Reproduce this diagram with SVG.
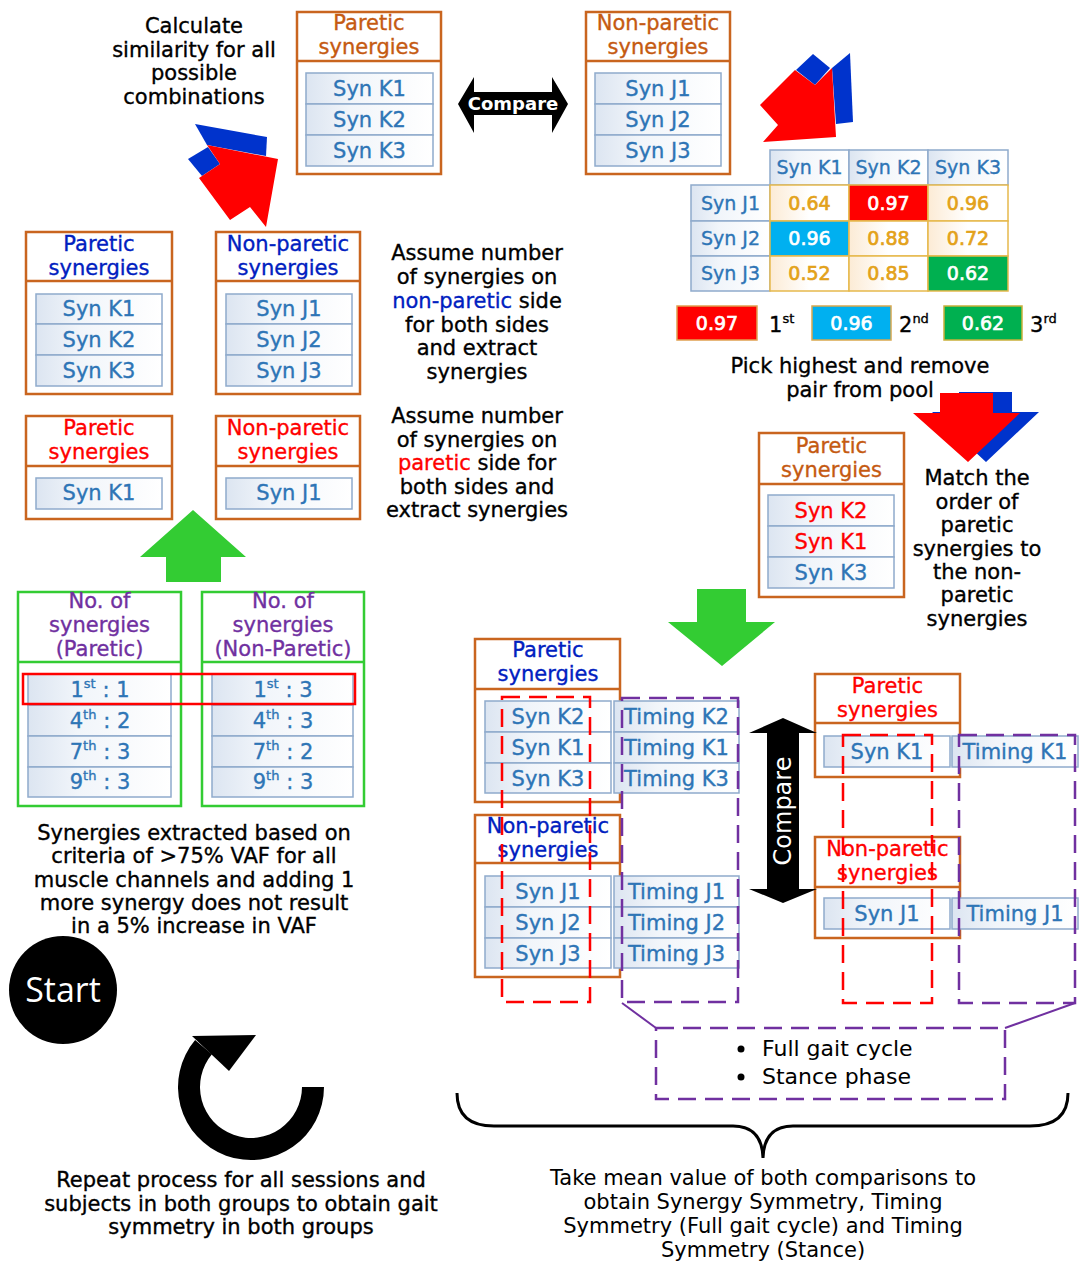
<svg xmlns="http://www.w3.org/2000/svg" width="1084" height="1267" viewBox="0 0 1084 1267">
<defs>
<linearGradient id="rowGrad" x1="0" y1="0" x2="1" y2="0">
<stop offset="0" stop-color="#DCE5F1"/><stop offset="0.35" stop-color="#F1F5FA"/><stop offset="1" stop-color="#FFFFFF"/>
</linearGradient>
<linearGradient id="valGrad" x1="0" y1="0" x2="1" y2="0">
<stop offset="0" stop-color="#FCEBD5"/><stop offset="0.5" stop-color="#FFFFFF"/><stop offset="1" stop-color="#FFFFFF"/>
</linearGradient>
<style>
.t{font-family:"DejaVu Sans",Verdana,sans-serif;font-size:21px;text-anchor:middle;fill:#000;stroke:#000;stroke-width:0.35}
.s{text-anchor:start}
.syn{fill:#2E75B6;stroke:#2E75B6}
.org{fill:#C55A11;stroke:#C55A11}
.blu{fill:#0020C0;stroke:#0020C0}
.red{fill:#FF0000;stroke:#FF0000}
.pur{fill:#7030A0;stroke:#7030A0}
.wht{fill:#FFFFFF;stroke:#FFFFFF}
.gold{fill:#E3A21A;stroke:#E3A21A}
.v{font-size:19px}
.box{fill:#FFFFFF;stroke:#C9651F;stroke-width:2.5}
.gbox{fill:#FFFFFF;stroke:#33CC33;stroke-width:2.5}
.div{stroke:#C9651F;stroke-width:2.5}
.gdiv{stroke:#33CC33;stroke-width:2.5}
.row{fill:url(#rowGrad);stroke:#8FAACC;stroke-width:1.5}
.hcell{fill:url(#rowGrad);stroke:#8FAACC;stroke-width:1.5}
.vcell{fill:url(#valGrad);stroke:#E6B94C;stroke-width:1.5}
.rdash{fill:none;stroke:#FF0000;stroke-width:2.5;stroke-dasharray:18 9}
.pdash{fill:none;stroke:#7030A0;stroke-width:2.5;stroke-dasharray:18 9}
.sup{font-size:13px}
</style>
</defs>
<rect width="1084" height="1267" fill="#FFFFFF"/>

<!-- Text blocks -->
<g id="txt-calc">
<text class="t" x="194" y="33">Calculate</text>
<text class="t" x="194" y="57">similarity for all</text>
<text class="t" x="194" y="80">possible</text>
<text class="t" x="194" y="104">combinations</text>
</g>

<g id="txt-assume-nonparetic">
<text class="t" x="477" y="260">Assume number</text>
<text class="t" x="477" y="284">of synergies on</text>
<text class="t" x="477" y="308"><tspan class="blu">non-paretic</tspan> side</text>
<text class="t" x="477" y="332">for both sides</text>
<text class="t" x="477" y="355">and extract</text>
<text class="t" x="477" y="379">synergies</text>
</g>
<g id="txt-assume-paretic">
<text class="t" x="477" y="423">Assume number</text>
<text class="t" x="477" y="447">of synergies on</text>
<text class="t" x="477" y="470"><tspan class="red">paretic</tspan> side for</text>
<text class="t" x="477" y="494">both sides and</text>
<text class="t" x="477" y="517">extract synergies</text>
</g>

<g id="txt-pick">
<text class="t" x="860" y="373">Pick highest and remove</text>
<text class="t" x="860" y="397">pair from pool</text>
</g>

<g id="txt-match">
<text class="t" x="977" y="485">Match the</text>
<text class="t" x="977" y="509">order of</text>
<text class="t" x="977" y="532">paretic</text>
<text class="t" x="977" y="556">synergies to</text>
<text class="t" x="977" y="579">the non-</text>
<text class="t" x="977" y="602">paretic</text>
<text class="t" x="977" y="626">synergies</text>
</g>

<g id="txt-extracted">
<text class="t" x="194" y="840">Synergies extracted based on</text>
<text class="t" x="194" y="863">criteria of &gt;75% VAF for all</text>
<text class="t" x="194" y="887">muscle channels and adding 1</text>
<text class="t" x="194" y="910">more synergy does not result</text>
<text class="t" x="194" y="933">in a 5% increase in VAF</text>
</g>

<g id="txt-repeat">
<text class="t" x="241" y="1187">Repeat process for all sessions and</text>
<text class="t" x="241" y="1211">subjects in both groups to obtain gait</text>
<text class="t" x="241" y="1234">symmetry in both groups</text>
</g>

<g id="txt-mean">
<text class="t" x="763" y="1185" style="stroke-width:0">Take mean value of both comparisons to</text>
<text class="t" x="763" y="1209" style="stroke-width:0">obtain Synergy Symmetry, Timing</text>
<text class="t" x="763" y="1233" style="stroke-width:0">Symmetry (Full gait cycle) and Timing</text>
<text class="t" x="763" y="1257" style="stroke-width:0">Symmetry (Stance)</text>
</g>

<!-- Top center boxes -->
<g id="box-top-paretic">
<rect class="box" x="297" y="12" width="144" height="162"/>
<line class="div" x1="297" y1="61" x2="441" y2="61"/>
<text class="t org" x="369" y="30">Paretic</text>
<text class="t org" x="369" y="54">synergies</text>
<rect class="row" x="306" y="73" width="127" height="31"/>
<rect class="row" x="306" y="104" width="127" height="31"/>
<rect class="row" x="306" y="135" width="127" height="31"/>
<text class="t syn" x="369.5" y="96">Syn K1</text>
<text class="t syn" x="369.5" y="127">Syn K2</text>
<text class="t syn" x="369.5" y="158">Syn K3</text>
</g>
<g id="box-top-nonparetic">
<rect class="box" x="586" y="12" width="144" height="162"/>
<line class="div" x1="586" y1="61" x2="730" y2="61"/>
<text class="t org" x="658" y="30">Non-paretic</text>
<text class="t org" x="658" y="54">synergies</text>
<rect class="row" x="595" y="73" width="126" height="31"/>
<rect class="row" x="595" y="104" width="126" height="31"/>
<rect class="row" x="595" y="135" width="126" height="31"/>
<text class="t syn" x="658" y="96">Syn J1</text>
<text class="t syn" x="658" y="127">Syn J2</text>
<text class="t syn" x="658" y="158">Syn J3</text>
</g>

<!-- Compare horizontal arrow -->
<g id="compare-h">
<polygon points="458,104 474,77 474,92 552,92 552,77 568,104 552,133 552,115 474,115 474,133" fill="#000"/>
<text class="t wht" x="513" y="110" style="font-size:18px;font-weight:bold;stroke-width:0">Compare</text>
</g>

<!-- Similarity matrix -->
<g id="matrix">
<rect class="hcell" x="770" y="150" width="79" height="35"/>
<rect class="hcell" x="849" y="150" width="79" height="35"/>
<rect class="hcell" x="928" y="150" width="80" height="35"/>
<rect class="hcell" x="691" y="185" width="79" height="36"/>
<rect class="hcell" x="691" y="221" width="79" height="35"/>
<rect class="hcell" x="691" y="256" width="79" height="35"/>
<text class="t syn v" x="809.5" y="174">Syn K1</text>
<text class="t syn v" x="888.5" y="174">Syn K2</text>
<text class="t syn v" x="968" y="174">Syn K3</text>
<text class="t syn v" x="730.5" y="210">Syn J1</text>
<text class="t syn v" x="730.5" y="245">Syn J2</text>
<text class="t syn v" x="730.5" y="280">Syn J3</text>
<rect class="vcell" x="770" y="185" width="79" height="36"/>
<rect x="849" y="185" width="79" height="36" fill="#FF0000" stroke="#E6B94C" stroke-width="1.5"/>
<rect class="vcell" x="928" y="185" width="80" height="36"/>
<rect x="770" y="221" width="79" height="35" fill="#00B0F0" stroke="#E6B94C" stroke-width="1.5"/>
<rect class="vcell" x="849" y="221" width="79" height="35"/>
<rect class="vcell" x="928" y="221" width="80" height="35"/>
<rect class="vcell" x="770" y="256" width="79" height="35"/>
<rect class="vcell" x="849" y="256" width="79" height="35"/>
<rect x="928" y="256" width="80" height="35" fill="#00B050" stroke="#E6B94C" stroke-width="1.5"/>
<text class="t gold v" x="809.5" y="210" style="stroke-width:0.7">0.64</text>
<text class="t wht v" x="888.5" y="210" style="stroke-width:0.7">0.97</text>
<text class="t gold v" x="968" y="210" style="stroke-width:0.7">0.96</text>
<text class="t wht v" x="809.5" y="245" style="stroke-width:0.7">0.96</text>
<text class="t gold v" x="888.5" y="245" style="stroke-width:0.7">0.88</text>
<text class="t gold v" x="968" y="245" style="stroke-width:0.7">0.72</text>
<text class="t gold v" x="809.5" y="280" style="stroke-width:0.7">0.52</text>
<text class="t gold v" x="888.5" y="280" style="stroke-width:0.7">0.85</text>
<text class="t wht v" x="968" y="280" style="stroke-width:0.7">0.62</text>
</g>

<!-- Legend -->
<g id="legend">
<rect x="677" y="306" width="80" height="34" fill="#FF0000" stroke="#E0A050" stroke-width="1.5"/>
<text class="t wht v" x="717" y="330" style="stroke-width:0.7">0.97</text>
<text class="t s" x="769" y="332">1<tspan class="sup" dy="-9">st</tspan></text>
<rect x="812" y="306" width="79" height="34" fill="#00B0F0" stroke="#D9A84E" stroke-width="1.5"/>
<text class="t wht v" x="851.5" y="330" style="stroke-width:0.7">0.96</text>
<text class="t s" x="899" y="332">2<tspan class="sup" dy="-9">nd</tspan></text>
<rect x="944" y="306" width="78" height="34" fill="#00B050" stroke="#C9B03A" stroke-width="1.5"/>
<text class="t wht v" x="983" y="330" style="stroke-width:0.7">0.62</text>
<text class="t s" x="1030" y="332">3<tspan class="sup" dy="-9">rd</tspan></text>
</g>

<!-- Left middle boxes -->
<g id="box-left-paretic-blue">
<rect class="box" x="26" y="232" width="146" height="162"/>
<line class="div" x1="26" y1="281" x2="172" y2="281"/>
<text class="t blu" x="99" y="251">Paretic</text>
<text class="t blu" x="99" y="275">synergies</text>
<rect class="row" x="36" y="294" width="126" height="30"/>
<rect class="row" x="36" y="324" width="126" height="31"/>
<rect class="row" x="36" y="355" width="126" height="31"/>
<text class="t syn" x="99" y="316">Syn K1</text>
<text class="t syn" x="99" y="347">Syn K2</text>
<text class="t syn" x="99" y="378">Syn K3</text>
</g>
<g id="box-left-nonparetic-blue">
<rect class="box" x="216" y="232" width="144" height="162"/>
<line class="div" x1="216" y1="281" x2="360" y2="281"/>
<text class="t blu" x="288" y="251">Non-paretic</text>
<text class="t blu" x="288" y="275">synergies</text>
<rect class="row" x="226" y="294" width="126" height="30"/>
<rect class="row" x="226" y="324" width="126" height="31"/>
<rect class="row" x="226" y="355" width="126" height="31"/>
<text class="t syn" x="289" y="316">Syn J1</text>
<text class="t syn" x="289" y="347">Syn J2</text>
<text class="t syn" x="289" y="378">Syn J3</text>
</g>
<g id="box-left-paretic-red">
<rect class="box" x="26" y="416" width="146" height="103"/>
<line class="div" x1="26" y1="466" x2="172" y2="466"/>
<text class="t red" x="99" y="435">Paretic</text>
<text class="t red" x="99" y="459">synergies</text>
<rect class="row" x="36" y="478" width="126" height="31"/>
<text class="t syn" x="99" y="500">Syn K1</text>
</g>
<g id="box-left-nonparetic-red">
<rect class="box" x="216" y="416" width="144" height="103"/>
<line class="div" x1="216" y1="466" x2="360" y2="466"/>
<text class="t red" x="288" y="435">Non-paretic</text>
<text class="t red" x="288" y="459">synergies</text>
<rect class="row" x="226" y="478" width="126" height="31"/>
<text class="t syn" x="289" y="500">Syn J1</text>
</g>

<!-- Green number boxes -->
<g id="box-no-paretic">
<rect class="gbox" x="18" y="592" width="163" height="214"/>
<line class="gdiv" x1="18" y1="662" x2="181" y2="662"/>
<text class="t pur" x="99.5" y="608">No. of</text>
<text class="t pur" x="99.5" y="632">synergies</text>
<text class="t pur" x="99.5" y="656">(Paretic)</text>
<rect class="row" x="28" y="674" width="143" height="31"/>
<rect class="row" x="28" y="705" width="143" height="31"/>
<rect class="row" x="28" y="736" width="143" height="31"/>
<rect class="row" x="28" y="767" width="143" height="30"/>
<text class="t syn" x="100" y="697">1<tspan class="sup" dy="-9">st</tspan><tspan dy="9"> : 1</tspan></text>
<text class="t syn" x="100" y="728">4<tspan class="sup" dy="-9">th</tspan><tspan dy="9"> : 2</tspan></text>
<text class="t syn" x="100" y="759">7<tspan class="sup" dy="-9">th</tspan><tspan dy="9"> : 3</tspan></text>
<text class="t syn" x="100" y="789">9<tspan class="sup" dy="-9">th</tspan><tspan dy="9"> : 3</tspan></text>
</g>
<g id="box-no-nonparetic">
<rect class="gbox" x="202" y="592" width="162" height="214"/>
<line class="gdiv" x1="202" y1="662" x2="364" y2="662"/>
<text class="t pur" x="283" y="608">No. of</text>
<text class="t pur" x="283" y="632">synergies</text>
<text class="t pur" x="283" y="656">(Non-Paretic)</text>
<rect class="row" x="212" y="674" width="141" height="31"/>
<rect class="row" x="212" y="705" width="141" height="31"/>
<rect class="row" x="212" y="736" width="141" height="31"/>
<rect class="row" x="212" y="767" width="141" height="30"/>
<text class="t syn" x="283" y="697">1<tspan class="sup" dy="-9">st</tspan><tspan dy="9"> : 3</tspan></text>
<text class="t syn" x="283" y="728">4<tspan class="sup" dy="-9">th</tspan><tspan dy="9"> : 3</tspan></text>
<text class="t syn" x="283" y="759">7<tspan class="sup" dy="-9">th</tspan><tspan dy="9"> : 2</tspan></text>
<text class="t syn" x="283" y="789">9<tspan class="sup" dy="-9">th</tspan><tspan dy="9"> : 3</tspan></text>
</g>
<rect id="highlight-first" x="23" y="674" width="332" height="30" fill="none" stroke="#FF0000" stroke-width="2.5"/>

<!-- Start -->
<g id="start">
<circle cx="63" cy="990" r="54" fill="#000"/>
<text x="63" y="1002" text-anchor="middle" font-family="'Open Sans','DejaVu Sans',sans-serif" font-size="34" fill="#FFFFFF">Start</text>
</g>

<!-- Right matched box -->
<g id="box-matched-paretic">
<rect class="box" x="759" y="433" width="145" height="164"/>
<line class="div" x1="759" y1="484" x2="904" y2="484"/>
<text class="t org" x="831.5" y="453">Paretic</text>
<text class="t org" x="831.5" y="477">synergies</text>
<rect class="row" x="768" y="495" width="126" height="31"/>
<rect class="row" x="768" y="526" width="126" height="31"/>
<rect class="row" x="768" y="557" width="126" height="31"/>
<text class="t red" x="831" y="518">Syn K2</text>
<text class="t red" x="831" y="549">Syn K1</text>
<text class="t syn" x="831" y="580">Syn K3</text>
</g>

<!-- Bottom middle boxes -->
<g id="box-bm-paretic">
<rect class="box" x="475" y="639" width="145" height="163"/>
<line class="div" x1="475" y1="689" x2="620" y2="689"/>
<text class="t blu" x="548" y="657">Paretic</text>
<text class="t blu" x="548" y="681">synergies</text>
<rect class="row" x="485" y="701" width="126" height="31"/>
<rect class="row" x="485" y="732" width="126" height="31"/>
<rect class="row" x="485" y="763" width="126" height="30"/>
<text class="t syn" x="548" y="724">Syn K2</text>
<text class="t syn" x="548" y="755">Syn K1</text>
<text class="t syn" x="548" y="786">Syn K3</text>
<rect class="row" x="614" y="701" width="125" height="31"/>
<rect class="row" x="614" y="732" width="125" height="31"/>
<rect class="row" x="614" y="763" width="125" height="30"/>
<text class="t syn" x="676.5" y="724">Timing K2</text>
<text class="t syn" x="676.5" y="755">Timing K1</text>
<text class="t syn" x="676.5" y="786">Timing K3</text>
</g>
<g id="box-bm-nonparetic">
<rect class="box" x="475" y="815" width="145" height="162"/>
<line class="div" x1="475" y1="863" x2="620" y2="863"/>
<text class="t blu" x="548" y="833">Non-paretic</text>
<text class="t blu" x="548" y="857">synergies</text>
<rect class="row" x="485" y="876" width="126" height="31"/>
<rect class="row" x="485" y="907" width="126" height="31"/>
<rect class="row" x="485" y="938" width="126" height="30"/>
<text class="t syn" x="548" y="899">Syn J1</text>
<text class="t syn" x="548" y="930">Syn J2</text>
<text class="t syn" x="548" y="961">Syn J3</text>
<rect class="row" x="614" y="876" width="125" height="31"/>
<rect class="row" x="614" y="907" width="125" height="31"/>
<rect class="row" x="614" y="938" width="125" height="30"/>
<text class="t syn" x="676.5" y="899">Timing J1</text>
<text class="t syn" x="676.5" y="930">Timing J2</text>
<text class="t syn" x="676.5" y="961">Timing J3</text>
</g>

<!-- Bottom right boxes -->
<g id="box-br-paretic">
<rect class="box" x="815" y="674" width="145" height="103"/>
<line class="div" x1="815" y1="723" x2="960" y2="723"/>
<text class="t red" x="887.5" y="693">Paretic</text>
<text class="t red" x="887.5" y="717">synergies</text>
<rect class="row" x="824" y="736" width="126" height="31"/>
<text class="t syn" x="887" y="759">Syn K1</text>
<rect class="row" x="952" y="736" width="126" height="31"/>
<text class="t syn" x="1015" y="759">Timing K1</text>
</g>
<g id="box-br-nonparetic">
<rect class="box" x="815" y="837" width="145" height="101"/>
<line class="div" x1="815" y1="887" x2="960" y2="887"/>
<text class="t red" x="887.5" y="856">Non-paretic</text>
<text class="t red" x="887.5" y="880">synergies</text>
<rect class="row" x="824" y="898" width="126" height="31"/>
<text class="t syn" x="887" y="921">Syn J1</text>
<rect class="row" x="952" y="898" width="126" height="31"/>
<text class="t syn" x="1015" y="921">Timing J1</text>
</g>

<!-- Compare vertical arrow -->
<g id="compare-v">
<polygon points="783,718 817,733 799,733 799,889 817,889 783,903 749,889 767,889 767,733 749,733" fill="#000"/>
<text class="t wht" transform="translate(783,811) rotate(-90)" y="8" style="font-size:24px;stroke-width:0">Compare</text>
</g>

<!-- Phase box -->
<g id="box-phase">
<rect class="pdash" x="656" y="1028" width="349" height="71"/>
<circle cx="741" cy="1049" r="3.5" fill="#000"/>
<circle cx="741" cy="1077" r="3.5" fill="#000"/>
<text class="t s" x="762" y="1056" style="font-size:22px;stroke-width:0">Full gait cycle</text>
<text class="t s" x="762" y="1084" style="font-size:22px;stroke-width:0">Stance phase</text>
</g>

<!-- Connectors -->
<g id="connectors">
<rect class="rdash" x="502" y="697" width="88" height="305"/>
<rect class="pdash" x="622" y="698" width="116" height="304"/>
<rect class="rdash" x="843" y="735" width="89" height="268"/>
<rect class="pdash" x="959" y="735" width="116" height="268"/>
<line x1="622" y1="1003" x2="656" y2="1028" stroke="#7030A0" stroke-width="2"/>
<line x1="1075" y1="1003" x2="1005" y2="1028" stroke="#7030A0" stroke-width="2"/>
<path d="M457,1093 Q457,1126 494,1126 L733,1126 Q762,1126 763,1158 Q764,1126 793,1126 L1030,1126 Q1068,1126 1068,1093" fill="none" stroke="#000" stroke-width="3"/>
<!-- top-left 3D arrow -->
<polygon points="195,124 267,137 266,156 207,145" fill="#0033CC"/>
<polygon points="188,159 208,147 220,164 202,176" fill="#0033CC"/>
<polygon points="207,145 278,159 266,227 250,207 230,220 199,178 220,164" fill="#FF0000"/>
<!-- top-right 3D arrow -->
<polygon points="796,70 813,54 830,68 815,85" fill="#0033CC"/>
<polygon points="832,68 850,53 853,122 836,124" fill="#0033CC"/>
<polygon points="760,105 795,70 815,85 832,68 836,137 763,142 778,125" fill="#FF0000"/>
<!-- right down 3D arrow -->
<polygon points="932,412 959,412 959,392 1012,392 1012,412 1039,412 986,462" fill="#0033CC"/>
<polygon points="913,413 940,413 940,393 993,393 993,413 1020,413 968,462" fill="#FF0000"/>
<!-- green arrows -->
<polygon points="193,510 246,557 221,557 221,582 166,582 166,557 140,557" fill="#33CC33"/>
<polygon points="697,589 746,589 746,622 775,622 722,666 668,622 697,622" fill="#33CC33"/>
<!-- circular arrow -->
<path d="M324,1087 A73,73 0 1 1 195.1,1040.1 L211.9,1054.2 A51,51 0 1 0 302,1087 Z" fill="#000"/>
<polygon points="192,1036 256,1035 229,1071" fill="#000"/>
</g>
</svg>
